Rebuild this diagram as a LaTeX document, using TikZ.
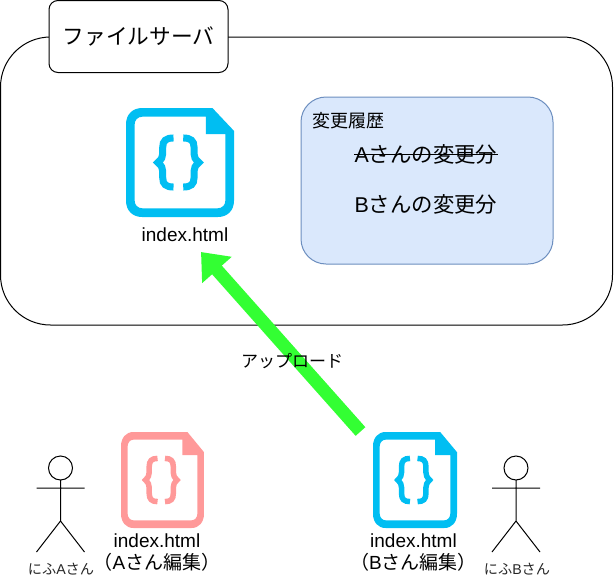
\documentclass[tikz,border=0pt]{standalone}
\usepackage{fontspec}
\usetikzlibrary{arrows.meta}
\setmainfont{Liberation Sans}
\newfontfamily\cjk{Noto Sans CJK JP}
\definecolor{iconblue}{HTML}{00BEF2}
\definecolor{iconred}{HTML}{FF9999}
\definecolor{histfill}{HTML}{DAE8FC}
\definecolor{histline}{HTML}{6C8EBF}
\definecolor{arrowgreen}{HTML}{33FF33}
\newcommand{\fileicon}[7]{%
 \begin{scope}[shift={(#1,#2)},x=#3pt/100,y=-#4pt/100]
  \fill[#5,even odd rule] (15,0) -- (80,0) -- (100,21) -- (100,85)
    .. controls (100,94) and (94,100) .. (85,100) -- (15,100)
    .. controls (6,100) and (0,94) .. (0,85) -- (0,15)
    .. controls (0,6) and (6,0) .. (15,0) -- cycle
    (15,8) .. controls (11,8) and (8,11) .. (8,15) -- (8,85)
    .. controls (8,89) and (11,92) .. (15,92) -- (85,92)
    .. controls (89,92) and (92,89) .. (92,85) -- (92,24) -- (74,24) -- (74,8) -- cycle;
  \draw[#5,line width=#6pt,miter limit=10]
    (44,27.5) .. controls (37,27.5) and (34,30) .. (34,36) -- (34,42)
    .. controls (34,45) and (33,47) .. (29.5,50)
    .. controls (33,53) and (34,55) .. (34,58) -- (34,64)
    .. controls (34,70) and (37,72.5) .. (44,72.5);
  \draw[#5,line width=#6pt,miter limit=10]
    (53,27.5) .. controls (60,27.5) and (63,30) .. (63,36) -- (63,42)
    .. controls (63,45) and (64,47) .. (67.5,50)
    .. controls (64,53) and (63,55) .. (63,58) -- (63,64)
    .. controls (63,70) and (60,72.5) .. (53,72.5);
  \node[inner sep=0pt] (#7) at (50,50) {};
 \end{scope}}
\newcommand{\stickman}[2]{%
 \draw[black,line width=1pt] (#1,#2) circle (12)
   (#1,#2+12) -- (#1,#2+53)
   (#1-24,#2+20) -- (#1+24,#2+20)
   (#1-24,#2+84) -- (#1,#2+53) -- (#1+24,#2+84);}
\tikzset{
  lbl/.style={inner sep=0pt,align=center,text=black,font=\fontsize{19}{22}\selectfont},
  small/.style={inner sep=0pt,text=black!85,font=\fontsize{14.2}{17}\selectfont},
  mid/.style={inner sep=0pt,text=black,font=\fontsize{18}{21}\selectfont},
  big/.style={inner sep=0pt,text=black,font=\fontsize{21.4}{25}\selectfont},
}
\begin{document}
\begin{tikzpicture}[x=1pt,y=-1pt]
\useasboundingbox (0,0) rectangle (614,579);
\draw[black,fill=white,line width=1pt,rounded corners=50pt] (0.5,37) rectangle (612.5,325);
\node[draw=black,fill=white,line width=1pt,rounded corners=9pt,minimum width=179pt,minimum height=72pt,inner sep=0pt,font=\fontsize{21.7}{26}\selectfont] (server) at (138.5,36.5) {\cjk ファイルサーバ};
\draw[histline,fill=histfill,line width=1pt,rounded corners=25pt] (301,97) rectangle (553,264);
\node[mid,anchor=west] (hist) at (312,121) {\cjk 変更履歴};
\node[big] (achg) at (426,154) {A\cjk さんの変更分};
\draw[black,line width=1pt] (achg.west) -- (achg.east);
\node[big] (bchg) at (426,204) {B\cjk さんの変更分};
\fileicon{126}{108}{108}{109}{iconblue}{7}{iconmain}
\node[lbl] (mainlbl) at (185,235) {index.html};
\fileicon{121}{432}{83}{96}{iconred}{5.5}{iconA}
\node[lbl] (Albl) at (157,553) {index.html\\{\cjk（}A{\cjk さん編集）}};
\fileicon{373}{432}{84}{96}{iconblue}{5.5}{iconB}
\node[lbl] (Blbl) at (413.5,553) {index.html\\{\cjk（}B{\cjk さん編集）}};
\stickman{60.5}{468}
\stickman{516}{468}
\node[small] (userA) at (61,569) {\cjk にふ\rmfamily A\cjk さん};
\node[small] (userB) at (517,569) {\cjk にふ\rmfamily B\cjk さん};
\coordinate (arrowstart) at (360.5,431.5);
\coordinate (arrowend) at (201,252);
\draw[arrowgreen,line width=13pt,-{Triangle[length=24pt,width=38pt]}] (arrowstart) -- (arrowend);
\node[mid,font=\fontsize{17}{20}\selectfont] (upload) at (292,361) {\cjk アップロード};
\end{tikzpicture}
\end{document}
